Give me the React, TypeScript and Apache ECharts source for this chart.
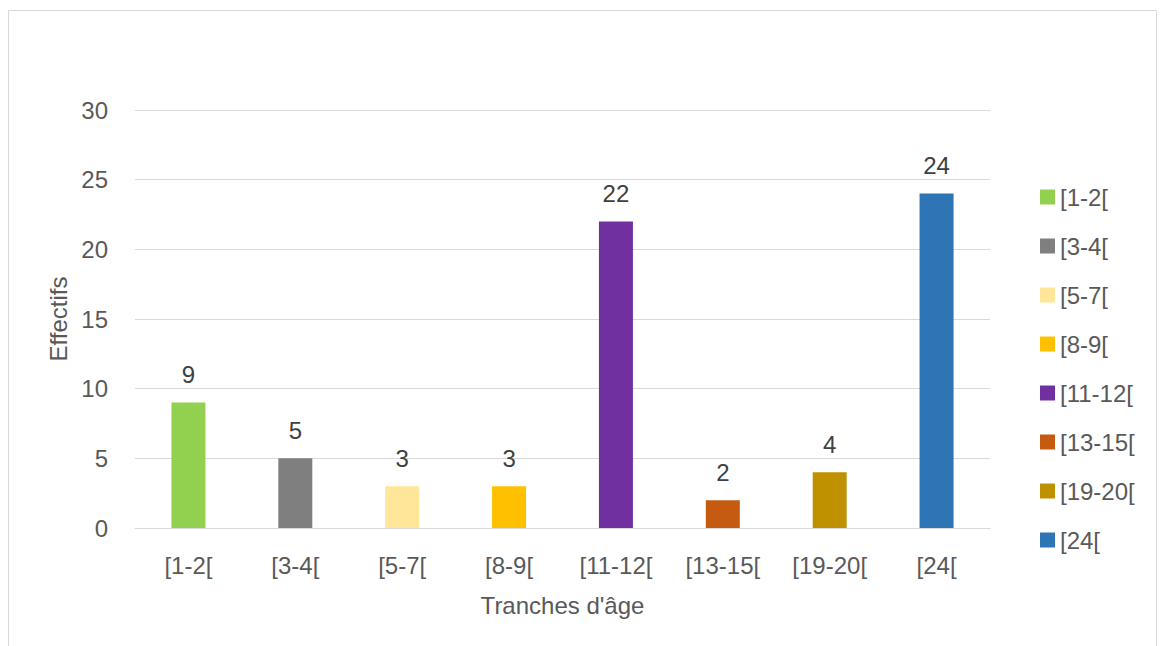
import React, { useEffect, useRef } from "react";
import * as echarts from "echarts";

const categories = ["[1-2[", "[3-4[", "[5-7[", "[8-9[", "[11-12[", "[13-15[", "[19-20[", "[24["];
const values = [9, 5, 3, 3, 22, 2, 4, 24];
const colors = ["#92d050", "#7f7f7f", "#ffe699", "#ffc000", "#7030a0", "#c55a11", "#bf9000", "#2e75b6"];
const yTitle = "Effectifs";
const xTitle = "Tranches d'âge";

export default function App() {
  const ref = useRef<HTMLDivElement>(null);
  useEffect(() => {
    if (!ref.current) return;
    const chart = echarts.init(ref.current, undefined, { renderer: "svg" });
    const font = "'Liberation Sans', Arial, sans-serif";
    const series = categories.map((name, i) => ({
      name,
      type: "bar",
      stack: "total",
      barWidth: 34,
      itemStyle: { color: colors[i] },
      label: {
        show: true,
        position: "top",
        distance: 16,
        color: "#404040",
        fontSize: 24,
        fontFamily: font,
        formatter: (p: any) => (p.value === "-" ? "" : String(p.value)),
      },
      data: categories.map((_, j) => (j === i ? values[i] : "-")),
    }));
    chart.setOption({
      animation: false,
      textStyle: { fontFamily: font },
      graphic: [
        {
          type: "rect",
          shape: { x: 8.5, y: 10.5, width: 1148, height: 700 },
          style: { fill: "none", stroke: "#d9d9d9", lineWidth: 1 },
          silent: true,
        },
      ],
      grid: { left: 135, right: 173, top: 110, bottom: 118 },
      legend: {
        orient: "vertical",
        left: 1035,
        top: 180,
        itemWidth: 15,
        itemHeight: 15,
        itemGap: 25,
        icon: "rect",
        data: categories,
        textStyle: { color: "#595959", fontSize: 24, fontFamily: font, lineHeight: 24 },
      },
      xAxis: {
        type: "category",
        data: categories,
        name: xTitle,
        nameLocation: "middle",
        nameGap: 65,
        nameTextStyle: { color: "#595959", fontSize: 24, fontFamily: font },
        axisLine: { lineStyle: { color: "#d9d9d9", width: 1 } },
        axisTick: { show: false },
        axisLabel: { color: "#595959", fontSize: 24, fontFamily: font, margin: 25, interval: 0 },
      },
      yAxis: {
        type: "value",
        min: 0,
        max: 30,
        interval: 5,
        name: yTitle,
        nameLocation: "middle",
        nameGap: 60,
        nameTextStyle: { color: "#595959", fontSize: 24, fontFamily: font },
        axisLine: { show: false },
        axisTick: { show: false },
        axisLabel: { color: "#595959", fontSize: 24, fontFamily: font, margin: 27 },
        splitLine: { lineStyle: { color: "#d9d9d9", width: 1 } },
      },
      series,
    });
    return () => chart.dispose();
  }, []);
  return (
    <div style={{ position: "absolute", left: 0, top: 0, width: 1163, height: 646, overflow: "hidden", background: "#fff" }}>
      <div ref={ref} style={{ width: 1163, height: 646 }} />
    </div>
  );
}
